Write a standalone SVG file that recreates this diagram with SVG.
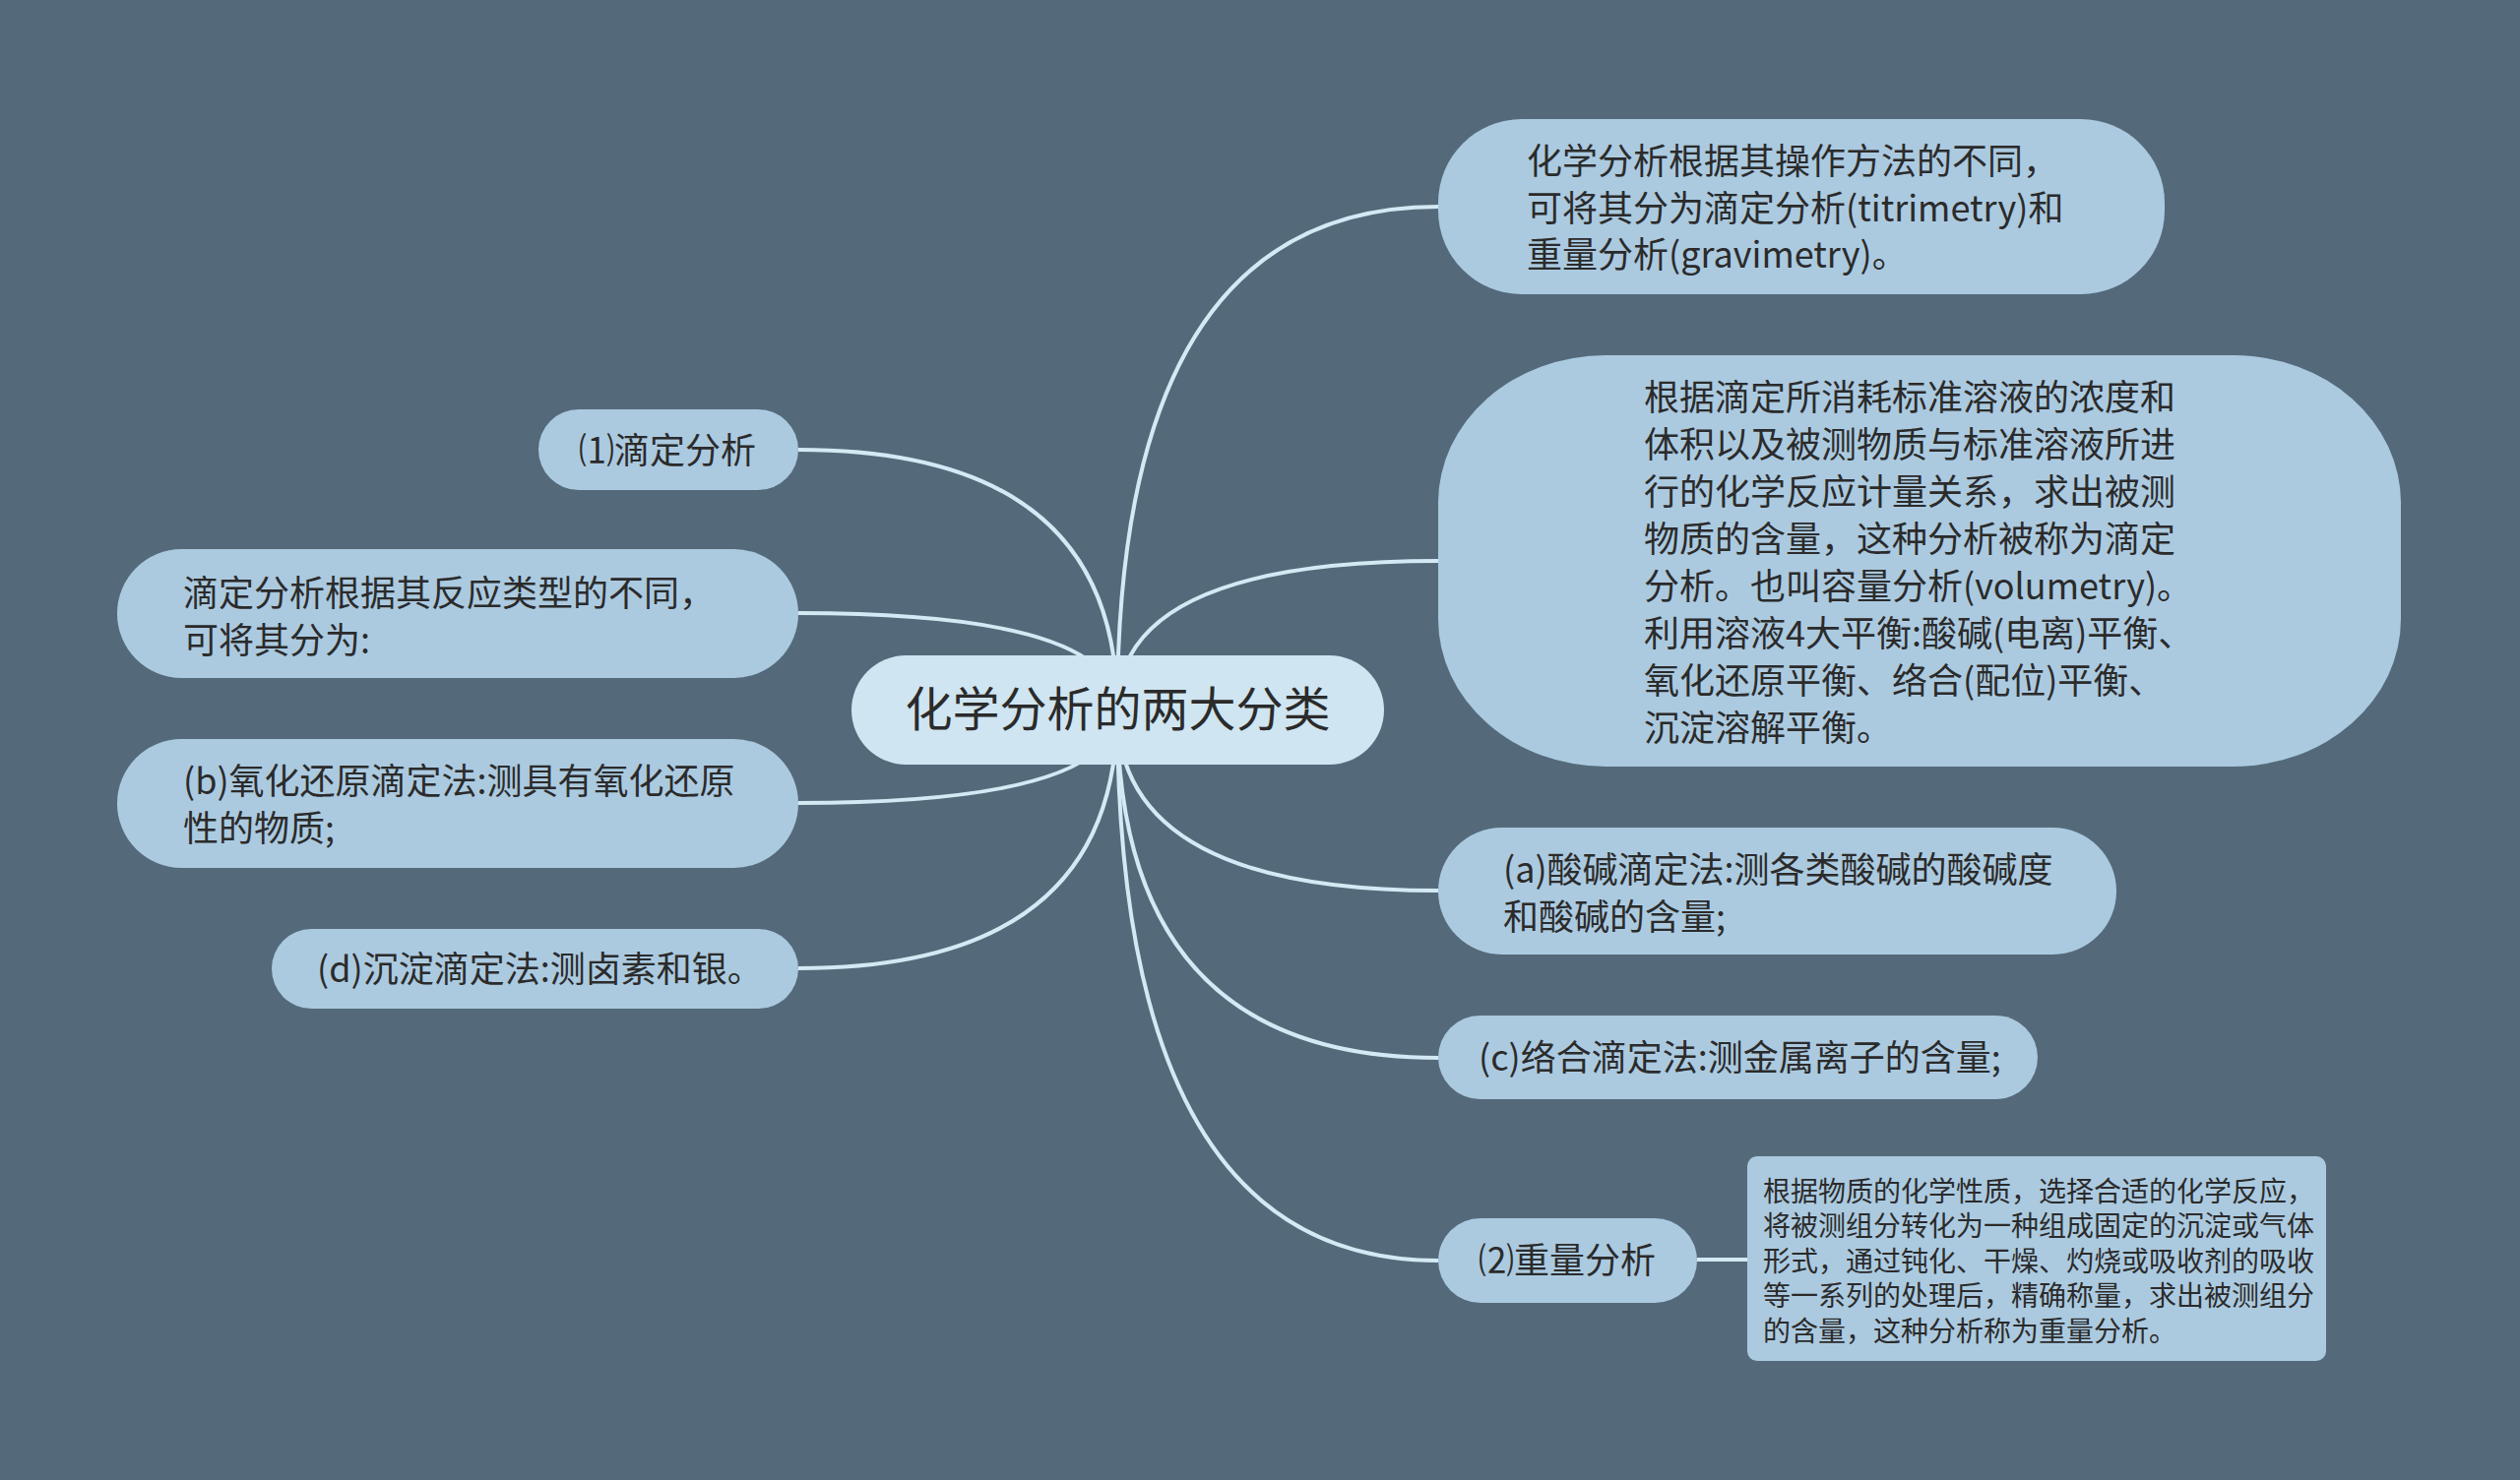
<svg xmlns="http://www.w3.org/2000/svg" width="2560" height="1504" viewBox="0 0 2560 1504">
<style>
.bg{fill:#546a7a}
.node{fill:#abcae0}
.root{fill:#cfe5f1}
.t{font-family:"Noto Sans CJK SC","Noto Sans",sans-serif;font-size:36px;fill:#2b2b2b}
.tr{font-family:"Noto Sans CJK SC","Noto Sans",sans-serif;font-size:48px;fill:#2b2b2b}
.ts{font-family:"Noto Sans CJK SC","Noto Sans",sans-serif;font-size:28px;fill:#2b2b2b}
.c{fill:none;stroke:#d3e9f4;stroke-width:4}
</style>
<rect class="bg" x="0" y="0" width="2560" height="1504"/>
<g id="connectors">
<path class="c" d="M1135 721 Q1135 210 1461 210"/>
<path class="c" d="M1135 721 Q1135 570 1461 570"/>
<path class="c" d="M1135 721 Q1135 905 1461 905"/>
<path class="c" d="M1135 721 Q1135 1075 1461 1075"/>
<path class="c" d="M1135 721 Q1135 1281 1461 1281"/>
<path class="c" d="M1135 721 Q1135 457 811 457"/>
<path class="c" d="M1135 721 Q1135 623 811 623"/>
<path class="c" d="M1135 721 Q1135 816 811 816"/>
<path class="c" d="M1135 721 Q1135 984 811 984"/>
<path class="c" d="M1724 1280 L1775 1280"/>
</g>
<g id="root">
<rect class="root" x="865" y="666" width="541" height="111" rx="55.5"/>
<text class="tr" x="1135.5" y="738" text-anchor="middle">化学分析的两大分类</text>
</g>
<g id="n-methods">
<rect class="node" x="1461" y="121" width="738" height="178" rx="85"/>
<text class="t" x="1551" y="177">化学分析根据其操作方法的不同，</text>
<text class="t" x="1551" y="225">可将其分为滴定分析(titrimetry)和</text>
<text class="t" x="1551" y="272">重量分析(gravimetry)。</text>
</g>
<g id="n-titration-def">
<rect class="node" x="1461" y="361" width="978" height="418" rx="170" ry="150"/>
<text class="t" x="1670" y="417">根据滴定所消耗标准溶液的浓度和</text>
<text class="t" x="1670" y="465">体积以及被测物质与标准溶液所进</text>
<text class="t" x="1670" y="513">行的化学反应计量关系，求出被测</text>
<text class="t" x="1670" y="561">物质的含量，这种分析被称为滴定</text>
<text class="t" x="1670" y="609">分析。也叫容量分析(volumetry)。</text>
<text class="t" x="1670" y="657">利用溶液4大平衡:酸碱(电离)平衡、</text>
<text class="t" x="1670" y="705">氧化还原平衡、络合(配位)平衡、</text>
<text class="t" x="1670" y="753">沉淀溶解平衡。</text>
</g>
<g id="n-a">
<rect class="node" x="1461" y="841" width="689" height="129" rx="64.5"/>
<text class="t" x="1527" y="897">(a)酸碱滴定法:测各类酸碱的酸碱度</text>
<text class="t" x="1527" y="945">和酸碱的含量;</text>
</g>
<g id="n-c">
<rect class="node" x="1461" y="1032" width="609" height="85" rx="42.5"/>
<text class="t" x="1502" y="1088">(c)络合滴定法:测金属离子的含量;</text>
</g>
<g id="n-gravimetry">
<rect class="node" x="1461" y="1238" width="263" height="86" rx="43"/>
<text class="t" x="1502" y="1294">⑵重量分析</text>
</g>
<g id="n-gravimetry-def">
<rect class="node" x="1775" y="1175" width="588" height="208" rx="10"/>
<text class="ts" x="1791" y="1221">根据物质的化学性质，选择合适的化学反应，</text>
<text class="ts" x="1791" y="1256">将被测组分转化为一种组成固定的沉淀或气体</text>
<text class="ts" x="1791" y="1292">形式，通过钝化、干燥、灼烧或吸收剂的吸收</text>
<text class="ts" x="1791" y="1327">等一系列的处理后，精确称量，求出被测组分</text>
<text class="ts" x="1791" y="1363">的含量，这种分析称为重量分析。</text>
</g>
<g id="n-titration">
<rect class="node" x="547" y="416" width="264" height="82" rx="41"/>
<text class="t" x="588" y="471">⑴滴定分析</text>
</g>
<g id="n-titration-types">
<rect class="node" x="119" y="558" width="692" height="131" rx="65.5"/>
<text class="t" x="186" y="616">滴定分析根据其反应类型的不同，</text>
<text class="t" x="186" y="664">可将其分为:</text>
</g>
<g id="n-b">
<rect class="node" x="119" y="751" width="692" height="131" rx="65.5"/>
<text class="t" x="186" y="807">(b)氧化还原滴定法:测具有氧化还原</text>
<text class="t" x="186" y="855">性的物质;</text>
</g>
<g id="n-d">
<rect class="node" x="276" y="944" width="535" height="81" rx="40.5"/>
<text class="t" x="322" y="998">(d)沉淀滴定法:测卤素和银。</text>
</g>
</svg>
